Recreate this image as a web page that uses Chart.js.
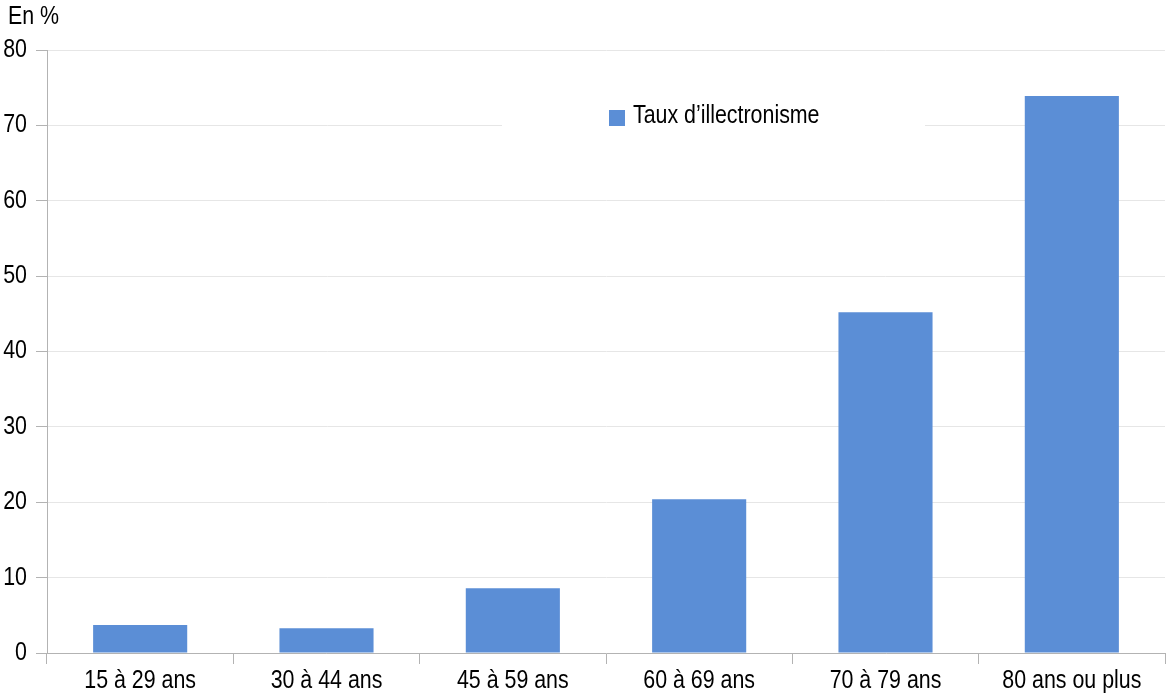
<!DOCTYPE html>
<html>
<head>
<meta charset="utf-8">
<script src="https://cdn.jsdelivr.net/npm/chart.js@4/dist/chart.umd.min.js"></script>
<style>
  html, body { margin: 0; padding: 0; background: #fff; }
  #wrap { position: relative; width: 1166px; height: 695px; }
</style>
</head>
<body>
<div id="wrap"><canvas id="chart"></canvas></div>
<script>
const categories = ["15 à 29 ans", "30 à 44 ans", "45 à 59 ans", "60 à 69 ans", "70 à 79 ans", "80 ans ou plus"];
const illectronisme = [3.7, 3.3, 8.6, 20.4, 45.2, 73.9];
const seriesLabel = "Taux d\u2019illectronisme";
const unitLabel = "En %";

const FONT = "'Liberation Sans', Arial, sans-serif";
const BLUE = "#5b8ed6";
const AXIS = "#b3b3b3";
const GRID = "#e6e6e6";
const NARROW = 0.855; // the original uses a narrow face

function narrowText(ctx, text, x, y, align) {
  ctx.save();
  ctx.translate(x, y);
  ctx.scale(NARROW, 1);
  ctx.textAlign = align;
  ctx.fillText(text, 0, 0);
  ctx.restore();
}

// tick labels, legend and unit drawn in a narrow style
const narrowLabels = {
  id: "narrowLabels",
  afterDraw(chart) {
    const ctx = chart.ctx;
    ctx.save();
    ctx.fillStyle = "#000";
    ctx.font = "25px " + FONT;
    ctx.textBaseline = "middle";

    const y = chart.scales.y;
    y.ticks.forEach((t, i) => {
      narrowText(ctx, String(t.value), 27, y.getPixelForTick(i), "right");
    });
    const x = chart.scales.x;
    x.ticks.forEach((t, i) => {
      narrowText(ctx, chart.data.labels[t.value], x.getPixelForTick(i), 681, "center");
    });

    // legend on a white box hiding the gridline
    ctx.fillStyle = "#fff";
    ctx.fillRect(502, 96, 423, 44);
    ctx.fillStyle = BLUE;
    ctx.fillRect(609, 110, 16, 16);
    ctx.fillStyle = "#000";
    narrowText(ctx, chart.data.datasets[0].label, 633, 116, "left");

    narrowText(ctx, unitLabel, 8, 17, "left");
    ctx.restore();
  },
};

const ctx = document.getElementById("chart").getContext("2d");
new Chart(ctx, {
  type: "bar",
  data: {
    labels: categories,
    datasets: [
      {
        label: seriesLabel,
        data: illectronisme,
        backgroundColor: BLUE,
        borderWidth: 0,
        barPercentage: 1,
        categoryPercentage: 0.505,
      },
    ],
  },
  options: {
    responsive: true,
    maintainAspectRatio: false,
    animation: false,
    devicePixelRatio: 1,
    layout: { padding: { top: 50, right: 1, left: 0, bottom: 0 } },
    plugins: {
      legend: { display: false },
      tooltip: { enabled: false },
    },
    scales: {
      x: {
        offset: true,
        afterFit: (s) => { s.height = 42; },
        grid: {
          offset: true,
          drawOnChartArea: false,
          drawTicks: true,
          tickLength: 11,
          tickColor: AXIS,
        },
        border: { color: AXIS, width: 1 },
        ticks: {
          color: "rgba(0,0,0,0)",
          font: { family: FONT, size: 25 },
          padding: 2,
          maxRotation: 0,
        },
      },
      y: {
        min: 0,
        max: 80,
        afterFit: (s) => { s.width = 47; },
        grid: {
          color: GRID,
          tickColor: AXIS,
          tickLength: 11,
        },
        border: { color: AXIS, width: 1 },
        ticks: {
          stepSize: 10,
          color: "rgba(0,0,0,0)",
          font: { family: FONT, size: 25 },
          padding: 4,
        },
      },
    },
  },
  plugins: [narrowLabels],
});
</script>
</body>
</html>
